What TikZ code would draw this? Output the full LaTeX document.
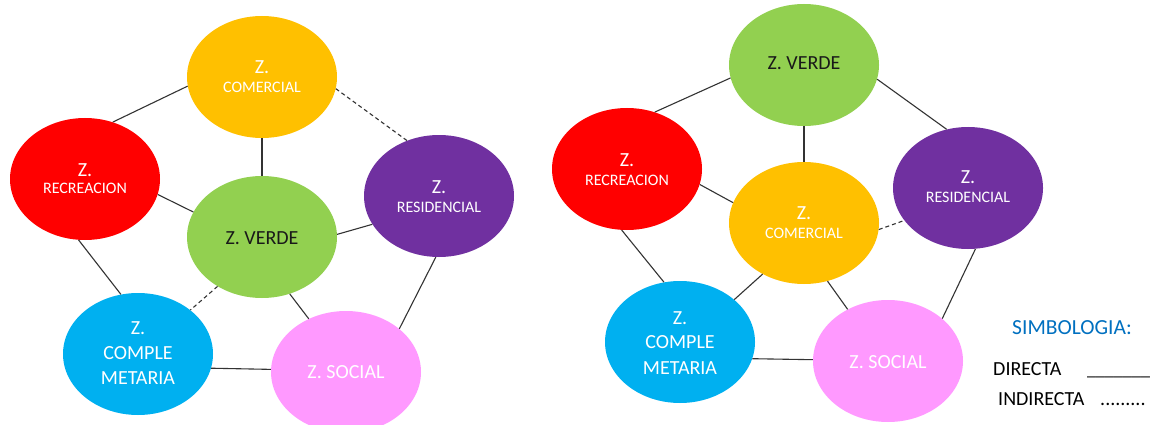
\documentclass[tikz,border=0pt]{standalone}
\usepackage{fontspec}
\setmainfont{Carlito}
\usetikzlibrary{shapes.geometric}
\definecolor{czcom}{HTML}{FFC000}
\definecolor{czrec}{HTML}{FF0000}
\definecolor{czver}{HTML}{92D050}
\definecolor{czres}{HTML}{7030A0}
\definecolor{czcpl}{HTML}{00B0F0}
\definecolor{czsoc}{HTML}{FF99FF}
\definecolor{cblue}{HTML}{0070C0}
\definecolor{cline}{HTML}{333333}
\tikzset{
  zone/.style={ellipse, minimum width=150pt, minimum height=122pt, inner sep=0pt, draw=none},
  bigt/.style={font=\fontsize{20}{24}\selectfont, inner sep=0pt},
  smallt/.style={font=\fontsize{16}{19}\selectfont, inner sep=0pt},
  wt/.style={text=white},
  bt/.style={text=black!90},
  con/.style={draw=cline, line width=1.1pt},
  dcon/.style={draw=cline, line width=1.1pt, dash pattern=on 4pt off 3pt},
  legt/.style={font=\fontsize{20}{24}\selectfont, inner sep=0pt, anchor=base west}
}
\begin{document}
\begin{tikzpicture}[x=1pt,y=-1pt]
\useasboundingbox (0,0) rectangle (1161,425);
\fill[white] (0,0) rectangle (1161,425);

% ---------- left diagram ----------
\node[zone,fill=czcom] (lcom) at (262,77) {};
\node[zone,fill=czrec] (lrec) at (85,179) {};
\node[zone,fill=czver] (lver) at (262,237) {};
\node[zone,fill=czres] (lres) at (439,196) {};
\node[zone,fill=czcpl] (lcpl) at (138,354) {};
\node[zone,fill=czsoc] (lsoc) at (346,372) {};

\draw[con] (lcom.187) -- (lrec.64);
\draw[con] (lcom.270) -- (lver.90);
\draw[dcon] (lcom.351) -- (lres.120);
\draw[con] (lrec.348) -- (lver.160);
\draw[con] (lrec.264) -- (lcpl.106);
\draw[con] (lver.2) -- (lres.203);
\draw[dcon] (lver.228) -- (lcpl.40);
\draw[con] (lver.296) -- (lsoc.125);
\draw[con] (lres.267) -- (lsoc.39);
\draw[con] (lcpl.349) -- (lsoc.178);

\node[wt,bigt] (lcomz) at (262,67) {Z.};
\node[wt,smallt] (lcoml) at (262,87) {COMERCIAL};
\node[wt,bigt] (lrecz) at (85,170) {Z.};
\node[wt,smallt] (lrecl) at (85,188) {RECREACION};
\node[bt,bigt] (lverl) at (262,238) {Z. VERDE};
\node[wt,bigt] (lresz) at (439,187) {Z.};
\node[wt,smallt] (lresl) at (439,207) {RESIDENCIAL};
\node[wt,bigt] (lcplz) at (138,328) {Z.};
\node[wt,bigt] (lcpl1) at (138,353) {COMPLE};
\node[wt,bigt] (lcpl2) at (138,378) {METARIA};
\node[wt,bigt] (lsocl) at (346,372) {Z. SOCIAL};

% ---------- right diagram ----------
\node[zone,fill=czver] (rver) at (804,65) {};
\node[zone,fill=czrec] (rrec) at (627,169) {};
\node[zone,fill=czcom] (rcom) at (804,223) {};
\node[zone,fill=czres] (rres) at (968,188) {};
\node[zone,fill=czcpl] (rcpl) at (680,342) {};
\node[zone,fill=czsoc] (rsoc) at (888,361) {};

\draw[con] (rver.190) -- (rrec.64);
\draw[con] (rver.270) -- (rcom.90);
\draw[con] (rver.349) -- (rres.110);
\draw[con] (rrec.348) -- (rcom.164);
\draw[con] (rrec.265) -- (rcpl.105);
\draw[dcon] (rcom.355) -- (rres.207);
\draw[con] (rcom.231) -- (rcpl.38);
\draw[con] (rcom.292) -- (rsoc.128);
\draw[con] (rres.277) -- (rsoc.38);
\draw[con] (rcpl.347) -- (rsoc.179);

\node[bt,bigt] (rverl) at (804,63) {Z. VERDE};
\node[wt,bigt] (rrecz) at (627,160) {Z.};
\node[wt,smallt] (rrecl) at (627,180) {RECREACION};
\node[wt,bigt] (rcomz) at (804,213) {Z.};
\node[wt,smallt] (rcoml) at (804,233) {COMERCIAL};
\node[wt,bigt] (rresz) at (968,177) {Z.};
\node[wt,smallt] (rresl) at (968,197) {RESIDENCIAL};
\node[wt,bigt] (rcplz) at (680,318) {Z.};
\node[wt,bigt] (rcpl1) at (680,342) {COMPLE};
\node[wt,bigt] (rcpl2) at (680,368) {METARIA};
\node[wt,bigt] (rsocl) at (888,362) {Z. SOCIAL};

% ---------- legend ----------
\node[legt,text=cblue,font=\fontsize{21.5}{25}\selectfont] (simb) at (1012,334) {SIMBOLOGIA:};
\node[legt] (dir) at (993,375) {DIRECTA};
\node[legt,font=\fontsize{18}{22}\selectfont] (dirl) at (1087,375) {\_\_\_\_\_\_\_};
\node[legt] (ind) at (998,405) {INDIRECTA};
\node[legt] (indl) at (1100,405) {.........};
\end{tikzpicture}
\end{document}
